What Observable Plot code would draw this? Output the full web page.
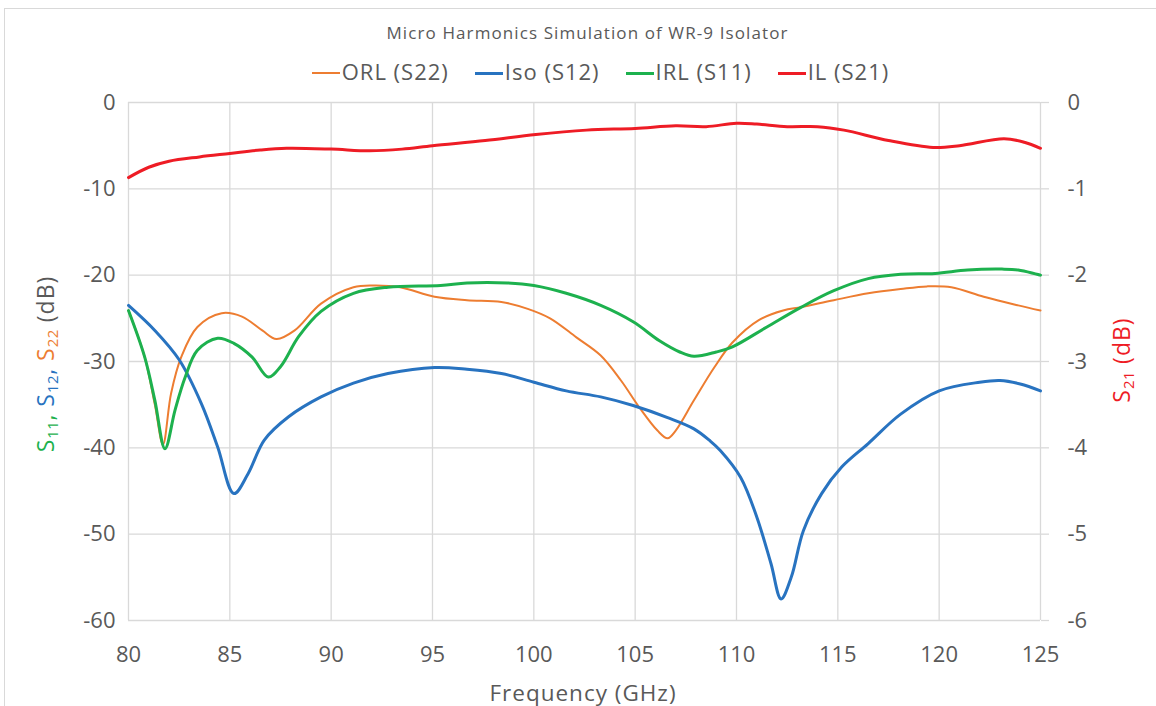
<!DOCTYPE html>
<html>
<head>
<meta charset="utf-8">
<script src="https://cdn.jsdelivr.net/npm/d3@7"></script>
<script src="https://cdn.jsdelivr.net/npm/@observablehq/plot@0.6"></script>
<style>
  html, body { margin: 0; padding: 0; background: #fff; }
  body { width: 1156px; height: 706px; position: relative; overflow: hidden; font-family: "Open Sans", Lato, sans-serif; color: #595959; }
  #frame { position: absolute; left: 4px; top: 8px; width: 1170px; height: 720px; border: 1px solid #D9D9D9; box-sizing: border-box; }
  #title { position: absolute; left: 0; top: 21px; width: 1175px; text-align: center; font-size: 17px; letter-spacing: 1.1px; color: #595959; }
  #legend { position: absolute; left: 0; top: 56px; width: 1201px; text-align: center; font-size: 22px; letter-spacing: 1px; color: #595959; white-space: nowrap; }
  #legend .item { display: inline-block; margin: 0 13px; }
  #legend .sw { display: inline-block; width: 28px; height: 3px; vertical-align: middle; margin-right: 2px; position: relative; top: -1px; }
  #chart { position: absolute; left: 0; top: 90px; }
  #xlab { position: absolute; left: 583px; top: 692px; transform: translate(-50%, -50%); font-size: 22.5px; letter-spacing: 1px; white-space: nowrap; }
  .ylab { position: absolute; white-space: nowrap; font-size: 23px; letter-spacing: 1px; transform: translate(-50%, -50%) rotate(-90deg); }
  .ylab sub { font-size: 15px; vertical-align: -4px; letter-spacing: 0.5px; }
</style>
</head>
<body>
<div id="frame"></div>
<div id="title">Micro Harmonics Simulation of WR-9 Isolator</div>
<div id="legend"></div>
<div id="chart"></div>
<div id="xlab">Frequency (GHz)</div>
<div class="ylab" style="left:45px; top:364px;"><span style="color:#1DB14E">S<sub>11</sub>,</span> <span style="color:#2873C0">S<sub>12</sub>,</span> <span style="color:#ED7D31">S<sub>22</sub></span> (dB)</div>
<div class="ylab" style="left:1121px; top:360px; color:#EE1C25;">S<sub>21</sub> (dB)</div>
<script>
// ---- data ----
const xTicks = [80, 85, 90, 95, 100, 105, 110, 115, 120, 125];
const yTicksLeft = [0, -10, -20, -30, -40, -50, -60];
const yTicksRight = [0, -1, -2, -3, -4, -5, -6];

const seriesNames = ["ORL (S22)", "Iso (S12)", "IRL (S11)", "IL (S21)"];
const seriesColors = ["#ED7D31", "#2873C0", "#1DB14E", "#EE1C25"];

const orlF = [80, 80.8, 81.3, 81.7, 82.1, 82.6, 83.4, 84.6, 85.6, 86.6, 87.3, 88.2, 89.5, 91.1, 92.1, 93.4, 95.1, 96.7, 98.4, 99.7, 100.8, 102.1, 103.3, 104.3, 105.2, 106.1, 106.6, 107.0, 107.9, 108.9, 109.8, 111.1, 112.3, 113.2, 114.8, 116.5, 118.1, 119.4, 120.6, 122.2, 123.9, 125];
const orlV = [-24.1, -29.5, -35.0, -39.6, -33.7, -29.5, -26.0, -24.4, -24.8, -26.4, -27.4, -26.4, -23.3, -21.4, -21.2, -21.4, -22.5, -22.9, -23.1, -23.9, -25.0, -27.2, -29.3, -32.2, -35.3, -38.0, -38.9, -38.0, -34.5, -30.7, -27.8, -25.2, -24.1, -23.7, -22.9, -22.1, -21.6, -21.3, -21.4, -22.5, -23.5, -24.1];

const isoF = [80, 81.3, 82.5, 83.6, 84.4, 85.2, 85.9, 86.7, 87.9, 89.5, 91.1, 92.8, 95.1, 96.7, 98.4, 100, 101.6, 103.3, 104.9, 106.6, 107.9, 108.7, 109.2, 110.2, 111, 111.7, 112.2, 112.7, 113.3, 114.2, 115.2, 116.5, 118.1, 120, 122, 123, 124, 125];
const isoV = [-23.5, -26.4, -29.8, -34.9, -39.9, -45.3, -43.0, -39.1, -36.4, -34.1, -32.5, -31.4, -30.7, -30.9, -31.4, -32.4, -33.4, -34.1, -35.1, -36.5, -37.8, -39.2, -40.3, -43.4, -48.0, -53.4, -57.5, -55.0, -49.6, -45.3, -42.2, -39.5, -36.1, -33.4, -32.4, -32.2, -32.6, -33.4];

const irlF = [80, 80.8, 81.3, 81.8, 82.3, 82.8, 83.4, 84.4, 85.2, 86.1, 86.9, 87.5, 88.4, 89.5, 91.1, 92.8, 95.4, 96.7, 98.7, 100, 101.6, 103.3, 104.9, 106.2, 107.2, 107.9, 109, 109.8, 111.5, 113.2, 114.8, 116.5, 118.1, 119.8, 121.4, 123.1, 123.9, 125];
const irlV = [-24.1, -29.5, -34.5, -40.1, -35.6, -31.8, -28.7, -27.3, -27.9, -29.5, -31.8, -30.6, -27.1, -24.2, -22.1, -21.4, -21.2, -20.9, -20.9, -21.2, -22.1, -23.5, -25.4, -27.6, -28.9, -29.4, -28.9, -28.3, -26.0, -23.7, -21.8, -20.4, -19.9, -19.8, -19.4, -19.3, -19.4, -20.0];

const ilF = [80, 81, 82, 83.5, 85, 86.5, 87.8, 90, 91.9, 93.5, 95, 97.6, 100.1, 102.6, 105, 107, 108.5, 110, 111, 112.5, 114, 115.3, 117.5, 119.7, 121, 123.2, 124.2, 125];
const ilV = [-0.87, -0.75, -0.68, -0.63, -0.59, -0.55, -0.53, -0.54, -0.56, -0.54, -0.50, -0.44, -0.37, -0.32, -0.30, -0.27, -0.28, -0.24, -0.25, -0.28, -0.28, -0.32, -0.44, -0.52, -0.50, -0.42, -0.46, -0.53];

const toRows = (fs, vs) => fs.map((f, i) => ({f, v: vs[i]}));
const orl = toRows(orlF, orlV);
const iso = toRows(isoF, isoV);
const irl = toRows(irlF, irlV);
const il = toRows(ilF, ilV);

// right axis (S21) shares pixel scale: 1 dB right = 10 dB left
const rightFactor = 10;

// legend
const legend = document.getElementById("legend");
seriesNames.forEach((n, i) => {
  const it = document.createElement("span");
  it.className = "item";
  it.innerHTML = `<span class="sw" style="background:${seriesColors[i]};height:${i === 0 ? 2 : 3}px"></span>${n}`;
  legend.appendChild(it);
});

const grid = "#D9D9D9";
const font = "'Open Sans', Lato, sans-serif";
const chart = Plot.plot({
  width: 1156,
  height: 616,
  marginLeft: 128,
  marginRight: 116,
  marginTop: 12,
  marginBottom: 86,
  x: {domain: [80, 125]},
  y: {domain: [-60, 0]},
  style: {fontFamily: font, fontSize: "22px", color: "#595959", background: "transparent", overflow: "visible"},
  marks: [
    Plot.gridX(xTicks, {stroke: grid, strokeOpacity: 1, strokeWidth: 1.3}),
    Plot.gridY(yTicksLeft, {stroke: grid, strokeOpacity: 1, strokeWidth: 1.3}),
    Plot.axisX(xTicks, {tickSize: 0, tickPadding: 26, label: null, tickFormat: d => String(d), fontSize: 22}),
    Plot.axisY(yTicksLeft, {anchor: "left", tickSize: 0, tickPadding: 13, label: null, tickFormat: d => String(d), fontSize: 22}),
    Plot.axisY(yTicksLeft, {anchor: "right", tickSize: 8, stroke: grid, strokeWidth: 1.3, tickPadding: 19, label: null,
      tickFormat: (d) => String(yTicksRight[yTicksLeft.indexOf(d)]), fontSize: 22}),
    Plot.line(orl, {x: "f", y: "v", stroke: seriesColors[0], strokeWidth: 2, curve: "catmull-rom"}),
    Plot.line(iso, {x: "f", y: "v", stroke: seriesColors[1], strokeWidth: 3, curve: "catmull-rom"}),
    Plot.line(irl, {x: "f", y: "v", stroke: seriesColors[2], strokeWidth: 3, curve: "catmull-rom"}),
    Plot.line(il, {x: "f", y: d => d.v * rightFactor, stroke: seriesColors[3], strokeWidth: 3, curve: "catmull-rom"})
  ]
});
document.getElementById("chart").appendChild(chart);
</script>
</body>
</html>
